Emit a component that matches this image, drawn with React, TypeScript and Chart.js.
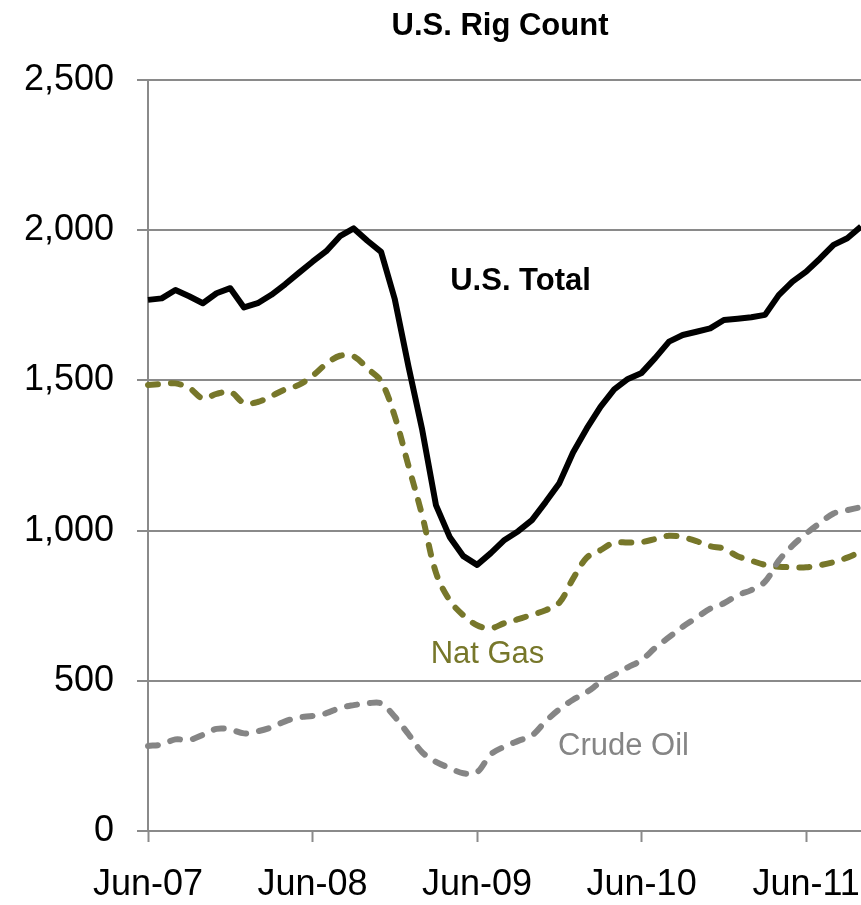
import React, { useEffect, useRef } from "react";
import { Chart, registerables } from "chart.js";

Chart.register(...registerables);

const months: string[] = [
  "Jun-07", "Jul-07", "Aug-07", "Sep-07", "Oct-07", "Nov-07", "Dec-07",
  "Jan-08", "Feb-08", "Mar-08", "Apr-08", "May-08", "Jun-08", "Jul-08", "Aug-08", "Sep-08", "Oct-08", "Nov-08", "Dec-08",
  "Jan-09", "Feb-09", "Mar-09", "Apr-09", "May-09", "Jun-09", "Jul-09", "Aug-09", "Sep-09", "Oct-09", "Nov-09", "Dec-09",
  "Jan-10", "Feb-10", "Mar-10", "Apr-10", "May-10", "Jun-10", "Jul-10", "Aug-10", "Sep-10", "Oct-10", "Nov-10", "Dec-10",
  "Jan-11", "Feb-11", "Mar-11", "Apr-11", "May-11", "Jun-11", "Jul-11", "Aug-11", "Sep-11", "Oct-11",
];

const tickMonths: string[] = ["Jun-07", "Jun-08", "Jun-09", "Jun-10", "Jun-11"];

const usTotal: number[] = [
  1768, 1773, 1801, 1780, 1757, 1790, 1807,
  1743, 1757, 1785, 1820, 1858, 1895, 1930, 1980, 2006, 1965, 1928, 1770,
  1546, 1335, 1085, 979, 915, 886, 925, 969, 998, 1035, 1095, 1158,
  1260, 1340, 1412, 1470, 1505, 1525, 1575, 1629, 1651, 1662, 1673, 1701,
  1705, 1710, 1718, 1784, 1829, 1862, 1905, 1951, 1973, 2012,
];

const natGas: number[] = [
  1485, 1488, 1490, 1475, 1440, 1455, 1462,
  1425, 1428, 1448, 1470, 1485, 1515, 1555, 1582, 1580, 1540, 1497, 1380,
  1215, 1050, 860, 768, 718, 685, 675, 692, 705, 720, 735, 760,
  840, 910, 935, 960, 960, 962, 972, 983, 978, 965, 948, 940,
  915, 900, 886, 880, 878, 878, 885, 895, 910, 930,
];

const crudeOil: number[] = [
  283, 288, 305, 303, 320, 340, 338,
  325, 332, 345, 365, 378, 383, 392, 410, 419, 425, 425, 380,
  322, 262, 230, 210, 192, 196, 255, 281, 300, 318, 365, 405,
  437, 462, 495, 520, 545, 569, 610, 645, 680, 710, 740, 758,
  785, 802, 830, 900, 950, 990, 1025, 1057, 1068, 1078,
];

const yTicks: number[] = [0, 500, 1000, 1500, 2000, 2500];

const FONT = "'Liberation Sans', Arial, Helvetica, sans-serif";
const GRID = "#8a8a8a";
const OLIVE = "#77772a";
const GRAY = "#858585";

const textPlugin = {
  id: "textLabels",
  afterDraw(chart: any) {
    const ctx = chart.ctx;
    const x = chart.scales.x;
    const y = chart.scales.y;
    ctx.save();
    ctx.textAlign = "center";
    ctx.textBaseline = "alphabetic";
    ctx.fillStyle = "#000000";
    ctx.font = `bold 31px ${FONT}`;
    ctx.fillText("U.S. Rig Count", 500, 35);
    ctx.fillText("U.S. Total", x.getPixelForValue(27.17), y.getPixelForValue(1801));
    ctx.font = `31px ${FONT}`;
    ctx.fillStyle = OLIVE;
    ctx.fillText("Nat Gas", x.getPixelForValue(24.76), y.getPixelForValue(559));
    ctx.fillStyle = GRAY;
    ctx.fillText("Crude Oil", x.getPixelForValue(34.68), y.getPixelForValue(253));
    ctx.restore();
  },
};

export default function App() {
  const ref = useRef<HTMLCanvasElement | null>(null);

  useEffect(() => {
    if (!ref.current) return;
    const chart = new Chart(ref.current, {
      type: "line",
      data: {
        labels: months,
        datasets: [
          {
            label: "U.S. Total",
            data: usTotal,
            borderColor: "#000000",
            borderWidth: 6,
            pointRadius: 0,
            tension: 0,
            borderJoinStyle: "round",
            fill: false,
          },
          {
            label: "Crude Oil",
            data: crudeOil,
            borderColor: GRAY,
            borderWidth: 6,
            borderDash: [10, 13],
            borderCapStyle: "round",
            pointRadius: 0,
            tension: 0.35,
            fill: false,
          },
          {
            label: "Nat Gas",
            data: natGas,
            borderColor: OLIVE,
            borderWidth: 6,
            borderDash: [10, 13],
            borderCapStyle: "round",
            pointRadius: 0,
            tension: 0.35,
            fill: false,
          },
        ],
      },
      options: {
        responsive: false,
        animation: false,
        devicePixelRatio: 1,
        layout: { padding: { top: 80, right: 0, left: 0, bottom: 0 } },
        plugins: {
          legend: { display: false },
          title: { display: false },
          tooltip: { enabled: false },
        },
        scales: {
          x: {
            type: "category",
            offset: false,
            afterFit(scale: any) {
              scale.height = 74;
              scale.paddingLeft = 0;
              scale.paddingRight = 0;
            },
            grid: {
              drawOnChartArea: false,
              drawTicks: true,
              tickLength: 11,
              tickWidth: 2,
              tickColor: (c: any) =>
                tickMonths.includes(months[c.index]) ? GRID : "rgba(0,0,0,0)",
            },
            border: { display: true, color: GRID, width: 2 },
            ticks: {
              autoSkip: false,
              maxRotation: 0,
              minRotation: 0,
              padding: 21,
              color: "#000000",
              font: { family: FONT, size: 36 },
              callback: (v: any, i: number) =>
                tickMonths.includes(months[i]) ? months[i] : "",
            },
          },
          y: {
            type: "linear",
            min: 0,
            max: 2500,
            afterFit(scale: any) {
              scale.width = 148;
              scale.paddingTop = 0;
              scale.paddingBottom = 0;
            },
            afterBuildTicks(scale: any) {
              scale.ticks = yTicks.map((v) => ({ value: v }));
            },
            grid: {
              color: GRID,
              lineWidth: 2,
              drawTicks: true,
              tickLength: 11,
            },
            border: { display: true, color: GRID, width: 2 },
            ticks: {
              padding: 23,
              color: "#000000",
              font: { family: FONT, size: 36 },
              callback: (v: any) => Number(v).toLocaleString("en-US"),
            },
          },
        },
      },
      plugins: [textPlugin],
    });
    return () => chart.destroy();
  }, []);

  return (
    <div style={{ position: "fixed", left: 0, top: 0, width: 861, height: 905, background: "#ffffff" }}>
      <canvas ref={ref} width={861} height={905} style={{ width: 861, height: 905, display: "block" }} />
    </div>
  );
}
